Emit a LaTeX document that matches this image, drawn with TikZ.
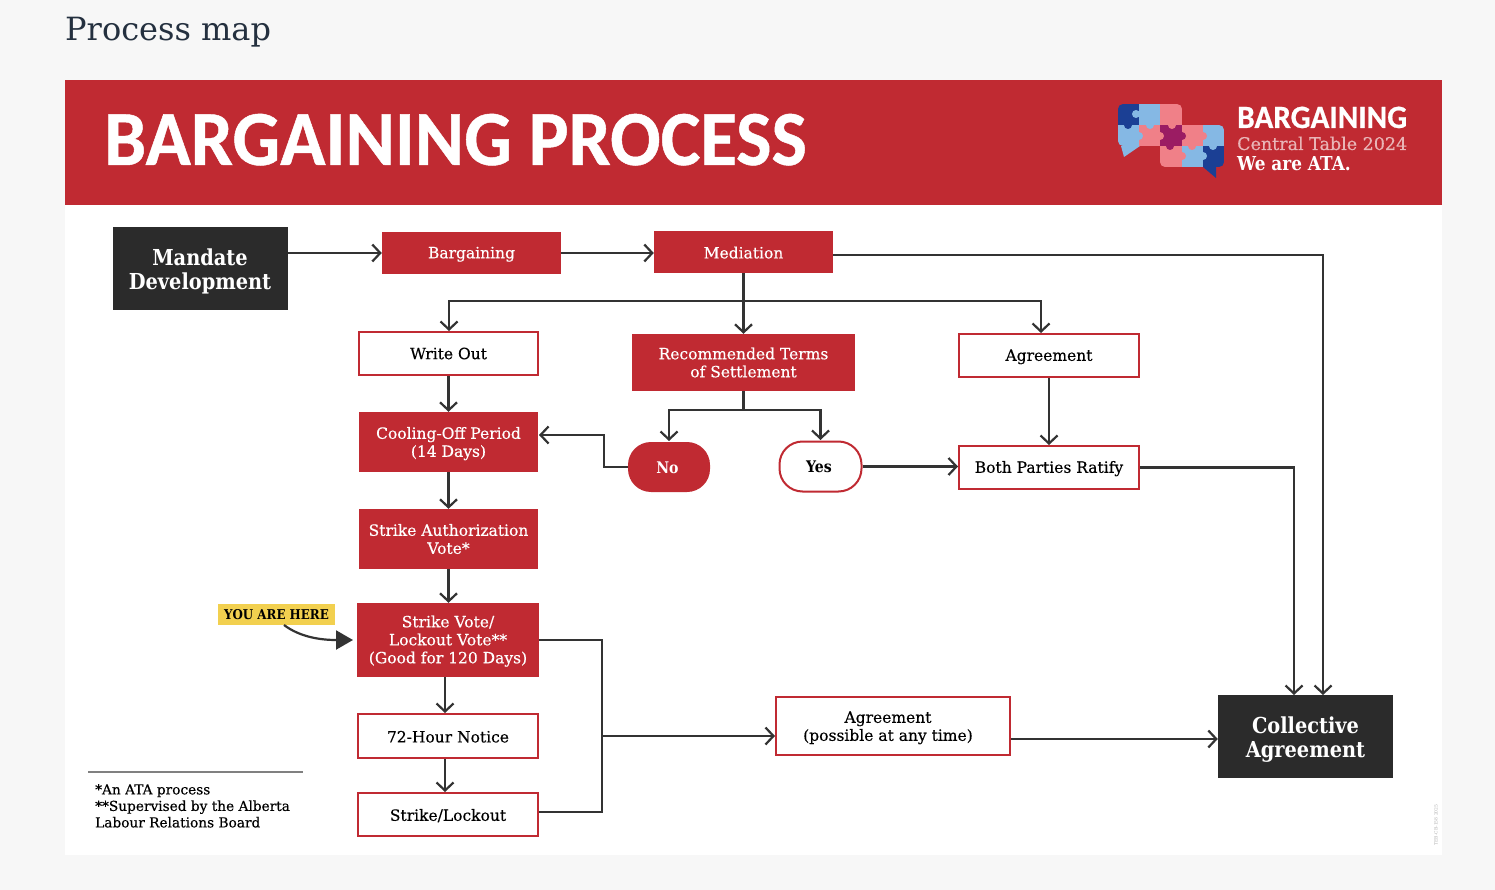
\documentclass[tikz,border=0pt]{standalone}
\usepackage{fontspec}
\setmainfont[FakeBold=0.35]{DejaVu Serif}
\newfontfamily\pagefont{DejaVu Serif}
\newfontfamily\heavyfont[FakeStretch=0.88]{DejaVu Serif}
\newfontfamily\bannerfont[FakeBold=0.6,FakeStretch=0.96]{Carlito}
\usetikzlibrary{positioning,calc,arrows.meta}
\definecolor{ataRed}{HTML}{C02A32}
\definecolor{ataDark}{HTML}{2B2B2B}
\definecolor{lineDark}{HTML}{333333}
\definecolor{hereYellow}{HTML}{F2D04F}
\definecolor{pageInk}{HTML}{24303F}
\definecolor{pzBlue}{HTML}{1B3F94}
\definecolor{pzSky}{HTML}{85B8E4}
\definecolor{pzPink}{HTML}{F08088}
\definecolor{pzPlum}{HTML}{9B1C63}
\tikzset{
  textdown/.style={execute at begin node={\rule{0pt}{#1}}},
  boxbase/.style={rectangle,inner sep=0pt,align=center,font=\fontsize{15.5}{18}\selectfont},
  redbox/.style={boxbase,fill=ataRed,text=white},
  linebox/.style={boxbase,draw=ataRed,line width=2pt,fill=white,text=black},
  darkbox/.style={boxbase,fill=ataDark,text=white,font=\heavyfont\bfseries\fontsize{22}{24}\selectfont,textdown=46pt},
  link/.style={draw=lineDark,line width=2.2pt},
  arrowlink/.style={link,-{Straight Barb[length=8pt,width=17pt,line width=2.2pt]}},
}
\begin{document}
\begin{tikzpicture}[x=1pt,y=-1pt]
  \useasboundingbox (0,0) rectangle (1495,890);
  \fill[black!3] (0,0) rectangle (1495,890);
  \fill[white] (65,80) rectangle (1442,855);
  \fill[ataRed] (65,80) rectangle (1442,205);
  \node[anchor=base west,inner sep=0pt,text=pageInk,font=\pagefont\fontsize{32}{36}\selectfont] (pagetitle) at (65,41) {Process map};
  \node[anchor=base west,inner sep=0pt,text=white,font=\bannerfont\bfseries\fontsize{78}{78}\selectfont] (bannertitle) at (104,165) {BARGAINING PROCESS};

  % logo
  \fill[pzSky] (1121,146) -- (1124,157) -- (1140,146) -- cycle;
  \fill[pzBlue] (1203,167) -- (1216,178) -- (1216,167) -- cycle;
  \begin{scope}
    \clip[rounded corners=5pt] (1118,104) rectangle (1182,146) (1160,125) rectangle (1224,167);
    \foreach \cx/\cy/\cc in {1118/104/pzBlue,1139/104/pzSky,1160/104/pzPink,1118/125/pzSky,1139/125/pzPink,1160/125/pzPlum,1182/125/pzPink,1203/125/pzSky,1160/146/pzPink,1182/146/pzSky,1203/146/pzBlue}{%
      \fill[\cc] (\cx,\cy) rectangle +(22,21);
    }
    \foreach \cx/\cy/\cc in {1136/114/pzSky,1128/125/pzBlue,1150/125/pzSky,1139/136/pzSky,1160/136/pzPink,1172/125/pzPink,1182/136/pzPlum,1170/146/pzPlum,1192/146/pzPink,1203/136/pzPink,1213/146/pzSky,1203/156/pzSky,1182/156/pzPink}{%
      \fill[\cc] (\cx,\cy) circle (4);
    }
  \end{scope}
  \node[anchor=base west,inner sep=0pt,text=white,font=\bannerfont\bfseries\fontsize{32.5}{32}\selectfont] (logoname) at (1237,128) {BARGAINING};
  \node[anchor=base west,inner sep=0pt,text=ataRed!35!white,font=\fontsize{17.5}{18}\selectfont] (logotable) at (1237,150) {Central Table 2024};
  \node[anchor=base west,inner sep=0pt,text=white,font=\heavyfont\bfseries\fontsize{19.2}{18}\selectfont] (logoata) at (1237,171) {We are ATA.};

  % boxes
  \node[darkbox,minimum width=175pt,minimum height=83pt] (mandate) at (200,268.5) {Mandate\\Development};
  \node[redbox,minimum width=179pt,minimum height=42pt,textdown=14pt] (bargaining) at (471.5,253) {Bargaining};
  \node[redbox,minimum width=179pt,minimum height=42pt,textdown=13pt] (mediation) at (743.5,252) {Mediation};
  \node[linebox,minimum width=179pt,minimum height=43pt] (writeout) at (448.5,353.5) {Write Out};
  \node[redbox,minimum width=223pt,minimum height=57pt] (terms) at (743.5,362.5) {Recommended Terms\\of Settlement};
  \node[linebox,minimum width=180pt,minimum height=43pt,textdown=14pt] (agreement) at (1049,355.5) {Agreement};
  \node[redbox,minimum width=179pt,minimum height=60pt,textdown=33pt] (cooling) at (448.5,442) {Cooling-Off Period\\(14 Days)};
  \node[redbox,rounded corners=23pt,minimum width=82pt,minimum height=50pt,font=\heavyfont\bfseries\fontsize{16}{18}\selectfont,textdown=14pt] (no) at (669,467) {No\hspace*{3pt}};
  \node[linebox,rounded corners=23pt,minimum width=82pt,minimum height=50pt,font=\heavyfont\bfseries\fontsize{16}{18}\selectfont] (yes) at (820.5,466.5) {Yes\hspace*{3pt}};
  \node[linebox,minimum width=180pt,minimum height=43pt,textdown=14pt] (ratify) at (1049,467.5) {Both Parties Ratify};
  \node[redbox,minimum width=179pt,minimum height=60pt] (authvote) at (448.5,539) {Strike Authorization\\Vote*};
  \node[redbox,minimum width=182pt,minimum height=74pt,textdown=50pt] (strikevote) at (448,640) {Strike Vote/\\Lockout Vote**\\(Good for 120 Days)};
  \node[linebox,minimum width=180pt,minimum height=44pt,textdown=13pt] (notice) at (448,736) {72-Hour Notice};
  \node[linebox,minimum width=180pt,minimum height=43pt,textdown=14pt] (lockout) at (448,814.5) {Strike/Lockout};
  \node[linebox,minimum width=234pt,minimum height=58pt,textdown=33pt] (anytime) at (893,726) {Agreement\hspace*{10pt}\\(possible at any time)\hspace*{10pt}};
  \node[darkbox,minimum width=175pt,minimum height=83pt] (collective) at (1305.5,736.5) {Collective\\Agreement};
  \node[fill=hereYellow,inner sep=0pt,minimum width=117pt,minimum height=21pt,font=\heavyfont\bfseries\fontsize{13.5}{14}\selectfont] (here) at (276.5,614.5) {YOU ARE HERE};

  % free ends
  \coordinate (medout) at (833,255);
  \coordinate (medturn) at (1323,255);
  \coordinate (split) at (743.5,301);
  \coordinate (agreein) at (1041,333);
  \coordinate (writein) at (449,331);
  \coordinate (termsplit) at (743.5,410);
  \coordinate (noin) at (669,441);
  \coordinate (yesin) at (820.5,440);
  \coordinate (coolin) at (539,435);
  \coordinate (noturn) at (604,467);
  \coordinate (ratifyturn) at (1294,467.5);
  \coordinate (collA) at (1294,695);
  \coordinate (collB) at (1323,695);
  \coordinate (bus) at (602,736);
  \coordinate (busturn) at (602,640);
  \coordinate (busend) at (602,812);
  \coordinate (herestart) at (284,625);
  \coordinate (hereend) at (353,640);

  % connectors
  \draw[arrowlink] (mandate.east |- bargaining.west) -- (bargaining.west);
  \draw[arrowlink] (bargaining.east) -- (mediation.west |- bargaining.east);
  \draw[arrowlink] (medout) -- (medturn) -- (collB);
  \draw[arrowlink] (mediation.south) -- (terms.north);
  \draw[arrowlink] (split) -| (writein);
  \draw[arrowlink] (split) -| (agreein);
  \draw[arrowlink] (writeout.south) -- (cooling.north);
  \draw[arrowlink] (terms.south) -- (termsplit) -| (noin);
  \draw[arrowlink] (termsplit) -| (yesin);
  \draw[arrowlink] (no.west) -- (noturn) |- (coolin);
  \draw[arrowlink] (yes.east) -- (ratify.west |- yes.east);
  \draw[arrowlink] (agreement.south) -- (ratify.north);
  \draw[arrowlink] (ratify.east) -- (ratifyturn) -- (collA);
  \draw[arrowlink] (cooling.south) -- (authvote.north);
  \draw[arrowlink] (authvote.south) -- (strikevote.north -| authvote.south);
  \draw[arrowlink] ([xshift=-3pt]strikevote.south) -- ([xshift=-3pt]notice.north);
  \draw[arrowlink] ([xshift=-3pt]notice.south) -- ([xshift=-3pt]lockout.north);
  \draw[link] (strikevote.east) -- (busturn) -- (busend) -- (busend -| lockout.east);
  \draw[arrowlink] (bus) -- (bus -| anytime.west);
  \draw[arrowlink] (anytime.east |- 0,739) -- (collective.west |- 0,739);
  \draw[draw=lineDark,line width=2.2pt,-{Triangle[length=17pt,width=19pt]}] (herestart) .. controls (300,637) and (320,640) .. (hereend);

  % footnotes
  \coordinate (ruleL) at (88,772);
  \coordinate (ruleR) at (303,772);
  \draw[black!50,line width=1.2pt] (ruleL) -- (ruleR);
  \node[anchor=north west,inner sep=0pt,align=left,font=\fontsize{13.7}{16.5}\selectfont] (notes) at (95,784) {*An ATA process\\**Supervised by the Alberta\\Labour Relations Board};
  \node[rotate=90,inner sep=0pt,text=black!30,font=\pagefont\fontsize{4.5}{5}\selectfont] (docref) at (1436,825) {TEB-CB-158 2025};
\end{tikzpicture}
\end{document}
